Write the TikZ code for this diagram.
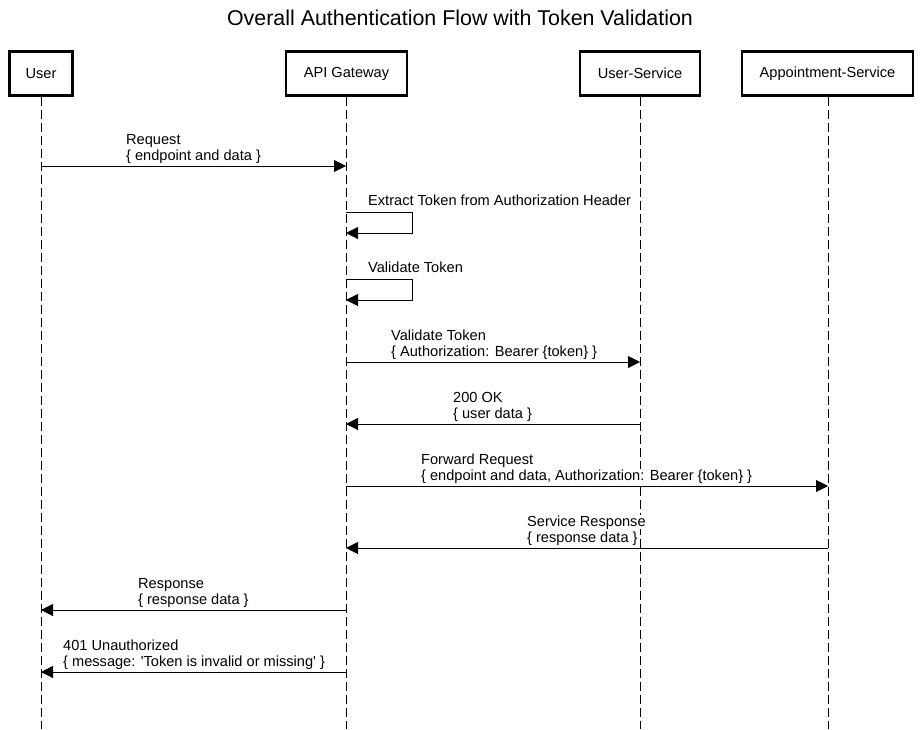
\documentclass[tikz,border=0pt]{standalone}
\usepackage{fontspec}
\setmainfont{Liberation Sans}[Ligatures=TeXOff]
\usetikzlibrary{arrows.meta,calc}
\begin{document}
\begin{tikzpicture}[x=1pt,y=-1pt,
  actor/.style={draw=black,line width=2.2pt,minimum height=44pt,inner sep=0pt,font=\fontsize{14.6}{16}\selectfont},
  life/.style={draw=black,line width=1pt,dash pattern=on 9pt off 4pt},
  msg/.style={draw=black,line width=1pt,-{Triangle[length=12pt,width=12pt]}},
  lbl/.style={anchor=base west,fill=white,inner sep=0pt,font=\fontsize{14.6}{16}\selectfont}
]
\useasboundingbox (0,0) rectangle (921,729);
\fill[white] (0,0) rectangle (921,729);
\node[font=\fontsize{21.4}{24}\selectfont,anchor=base] (title) at (460,25) {Overall Authentication Flow with Token Validation};
% lifelines
\coordinate (uE) at (41,729);
\coordinate (gE) at (346,729);
\coordinate (sE) at (640,729);
\coordinate (aE) at (828,729);
\node[actor,minimum width=63pt] (user) at (41,73.5) {User};
\node[actor,minimum width=121pt] (gw) at (346.5,73.5) {API Gateway};
\node[actor,minimum width=120pt] (us) at (640,73.5) {User-Service};
\node[actor,minimum width=171pt] (as) at (827.5,73.5) {Appointment-Service};
\draw[life] (user.south -| uE) -- (uE);
\draw[life] (gw.south -| gE) -- (gE);
\draw[life] (us.south -| sE) -- (sE);
\draw[life] (as.south -| aE) -- (aE);
% labels
\node[lbl] (l1a) at (126,144) {Request};
\node[lbl] (l1b) at (126,160) {\{ endpoint and data \}};
\node[lbl] (l2) at (368,205) {Extract Token from Authorization Header};
\node[lbl] (l3) at (368,272) {Validate Token};
\node[lbl] (l4a) at (391,340) {Validate Token};
\node[lbl] (l4b) at (391,356) {\{ Authorization: Bearer \{token\} \}};
\node[lbl] (l5a) at (453,402) {200 OK};
\node[lbl] (l5b) at (453,418) {\{ user data \}};
\node[lbl] (l6a) at (421,464) {Forward Request};
\node[lbl] (l6b) at (421,480) {\{ endpoint and data, Authorization: Bearer \{token\} \}};
\node[lbl] (l7a) at (527,526) {Service Response};
\node[lbl] (l7b) at (527,542) {\{ response data \}};
\node[lbl] (l8a) at (138,588) {Response};
\node[lbl] (l8b) at (138,604) {\{ response data \}};
\node[lbl] (l9a) at (63,650) {401 Unauthorized};
\node[lbl] (l9b) at (63,666) {\{ message: 'Token is invalid or missing' \}};
% messages
\coordinate (y1) at (0,166);
\draw[msg] (uE |- y1) -- (gE |- y1);
\coordinate (y2) at (0,212);
\coordinate (y2b) at (0,233);
\draw[msg] (gE |- y2) -- (412,212) -- (412,233) -- (gE |- y2b);
\coordinate (y3) at (0,279);
\coordinate (y3b) at (0,300);
\draw[msg] (gE |- y3) -- (412,279) -- (412,300) -- (gE |- y3b);
\coordinate (y4) at (0,362);
\draw[msg] (gE |- y4) -- (sE |- y4);
\coordinate (y5) at (0,424);
\draw[msg] (sE |- y5) -- (gE |- y5);
\coordinate (y6) at (0,486);
\draw[msg] (gE |- y6) -- (aE |- y6);
\coordinate (y7) at (0,548);
\draw[msg] (aE |- y7) -- (gE |- y7);
\coordinate (y8) at (0,610);
\draw[msg] (gE |- y8) -- (uE |- y8);
\coordinate (y9) at (0,672);
\draw[msg] (gE |- y9) -- (uE |- y9);
\end{tikzpicture}
\end{document}
